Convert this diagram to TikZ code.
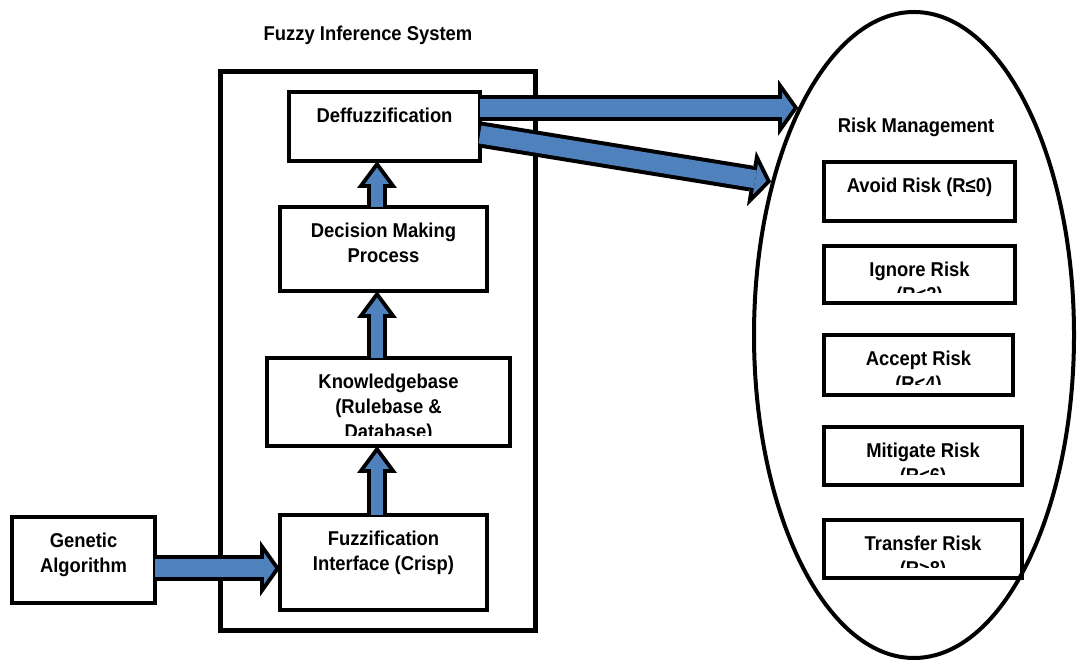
\documentclass[tikz,border=0pt]{standalone}
\usepackage{fontspec}
\setmainfont{Liberation Sans}[FakeStretch=0.92]
\usepackage{tikz}
\usetikzlibrary{arrows.meta,positioning,calc,shapes.geometric}
\definecolor{fisblue}{HTML}{4F81BD}
\newcommand{\fisrows}[1]{\begin{tabular}[t]{@{}c@{}}#1\end{tabular}}

\begin{document}
\begin{tikzpicture}[
      x=1pt,y=1pt,
      font=\fontsize{20}{25}\selectfont\bfseries,
      box/.style 2 args={draw,line width=4pt,minimum width=#1,minimum height=#2,inner sep=0pt,outer sep=0pt},
      txt/.style={anchor=base,inner sep=0pt},
      upout/.style={line width=20pt,-{Triangle[length=27pt,width=40pt,line width=0pt]}},
      upin/.style={fisblue,line width=12pt,shorten >=6.7pt,-{Triangle[length=16.3pt,width=24.2pt,line width=0pt]}},
      wideout/.style={line width=26pt,-{Triangle[length=20pt,width=56pt,line width=0pt]}},
      widein/.style={fisblue,line width=18pt,shorten >=4.9pt,-{Triangle[length=11.1pt,width=31.1pt,line width=0pt]}}
    ]
    \useasboundingbox (0,0) rectangle (1078,660);

    % fuzzy inference system
    \node[txt] (fistitle) at (368,619) {Fuzzy Inference System};
    \node[box={315pt}{559pt},line width=5pt] (fis) at (378,309) {};
    \node[box={191pt}{69pt}] (def) at (384.5,533.5) {};
    \node[box={207pt}{84pt}] (dec) at (383.5,411) {};
    \node[box={243pt}{88pt}] (kb) at (388.5,258) {};
    \node[box={207pt}{95pt}] (fuz) at (383.5,97.5) {};
    \node[box={143pt}{86pt}] (ga) at (83.5,100) {};

    \node[txt] (def-t) at ($(def.north)+(0,-30.5)$) {Deffuzzification};
    \node[txt] (dec-t) at ($(dec.north)+(0,-30.5)$) {\fisrows{Decision Making\\Process}};
    \begin{scope}
      \clip ($(kb.south west)+(0,10)$) rectangle (kb.north east);
      \node[txt] (kb-t) at ($(kb.north)+(0,-30.5)$) {\fisrows{Knowledgebase\\(Rulebase \&\\Database)}};
    \end{scope}
    \node[txt] (fuz-t) at ($(fuz.north)+(0,-30.5)$) {\fisrows{Fuzzification\\Interface (Crisp)}};
    \node[txt] (ga-t) at ($(ga.north)+(0,-30.5)$) {\fisrows{Genetic\\Algorithm}};

    % risk management
    \node[ellipse,draw,line width=4pt,minimum width=320pt,minimum height=646pt,inner sep=0pt] (rm) at (914,325) {};
    \node[txt] (rm-t) at (916,527) {Risk Management};
    \foreach \n/\x/\y/\w/\h/\t in {avoid/919.5/468.5/191/59/{Avoid Risk (R≤0)},
        ignore/919.5/385.5/191/57/{Ignore Risk\\(R<2)},
        accept/918.5/295/189/60/{Accept Risk\\(R<4)},
        mitigate/923/204/198/58/{Mitigate Risk\\(R<6)},
        transfer/923/111/198/58/{Transfer Risk\\(R>8)}}{
      \node[box={\w pt}{\h pt}] (\n) at (\x,\y) {};
      \begin{scope}
        \clip ($(\n.south west)+(0,10.5)$) rectangle (\n.north east);
        \node[txt] (\n-t) at ($(\n.north)+(0,-30.5)$) {\fisrows{\t}};
      \end{scope}
    }

    % block arrows
    \coordinate (upx) at (377,0);
    \coordinate (gy) at (0,91.5);
    \foreach \a/\b in {fuz/kb,kb/dec,dec/def}{
      \draw[upout] (\a.north -| upx) -- (\b.south -| upx);
      \draw[upin] (\a.north -| upx) -- (\b.south -| upx);
    }
    \draw[wideout] (ga.east |- gy) -- (fuz.west |- gy);
    \draw[widein] (ga.east |- gy) -- (fuz.west |- gy);
    \coordinate (a1) at (rm.117);
    \coordinate (a2) at (rm.133);
    \draw[wideout] (def.east |- a1) -- (a1);
    \draw[widein] (def.east |- a1) -- (a1);
    \draw[wideout] ($(def.east)+(0,-8)$) -- (a2);
    \draw[widein] ($(def.east)+(0,-8)$) -- (a2);
  \end{tikzpicture}
\end{document}
